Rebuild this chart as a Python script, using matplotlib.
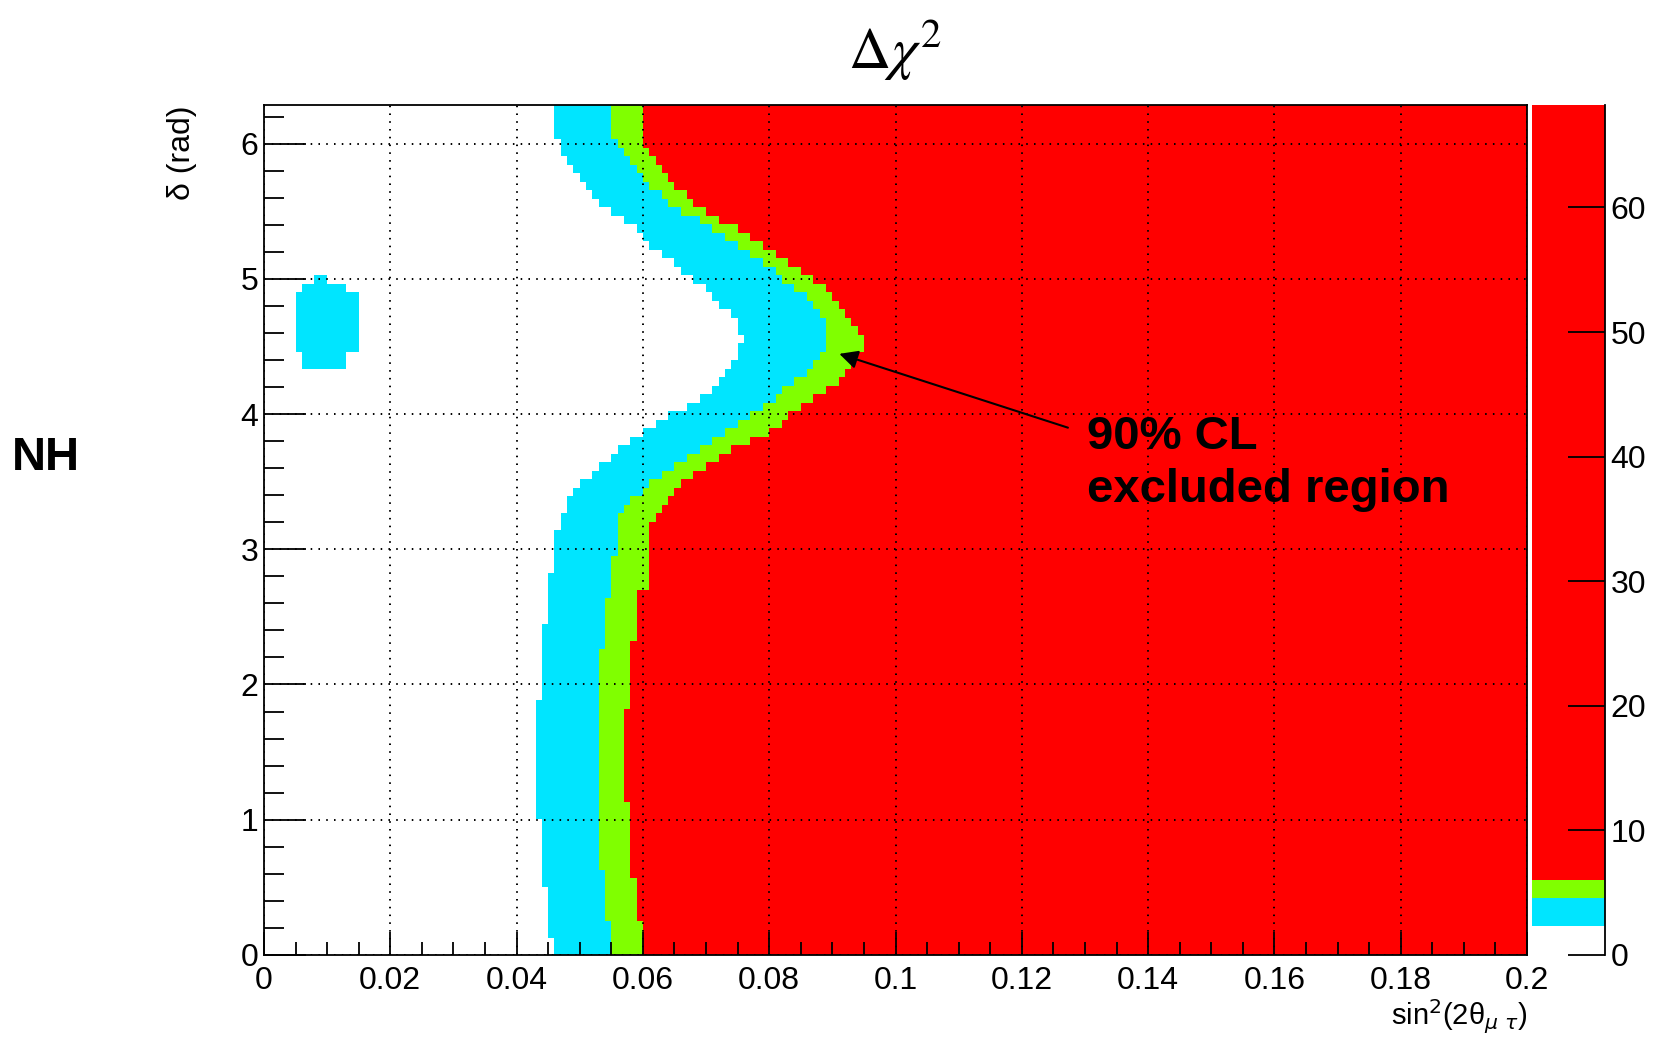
import numpy as np
import matplotlib
matplotlib.use("Agg")
import matplotlib.pyplot as plt
from matplotlib.colors import ListedColormap, BoundaryNorm
from matplotlib.cm import ScalarMappable
from matplotlib.ticker import MultipleLocator

plt.rcParams['font.family'] = ['Liberation Sans', 'DejaVu Sans']

# delta chi2 contour levels (colour bands) and their colours
levels = [0, 2.3, 4.61, 5.99, 68.2]
band_colors = ['#ffffff', '#00e5ff', '#80ff00', '#ff0000']

# histogram binning: 200 bins in sin^2(2theta), 100 bins in delta
n_x, n_y = 200, 100

# per delta-row (bottom to top) x where each band starts
cyan_start = [
    0.046, 0.046, 0.045, 0.045, 0.045, 0.045, 0.045, 0.045, 0.044, 0.044,
    0.044, 0.044, 0.044, 0.044, 0.044, 0.044, 0.043, 0.043, 0.043, 0.043,
    0.043, 0.043, 0.043, 0.043, 0.043, 0.043, 0.043, 0.043, 0.043, 0.043,
    0.044, 0.044, 0.044, 0.044, 0.044, 0.044, 0.044, 0.044, 0.044, 0.045,
    0.045, 0.045, 0.045, 0.045, 0.045, 0.046, 0.046, 0.046, 0.046, 0.046,
    0.047, 0.047, 0.048, 0.048, 0.049, 0.050, 0.052, 0.053, 0.055, 0.056,
    0.058, 0.060, 0.062, 0.064, 0.067, 0.069, 0.071, 0.072, 0.073, 0.074,
    0.075, 0.075, 0.076, 0.075, 0.075, 0.074, 0.072, 0.071, 0.070, 0.068,
    0.066, 0.065, 0.063, 0.061, 0.060, 0.059, 0.057, 0.055, 0.053, 0.052,
    0.051, 0.050, 0.049, 0.048, 0.047, 0.047, 0.046, 0.046, 0.046, 0.046,
]
green_start = [
    0.055, 0.055, 0.055, 0.055, 0.054, 0.054, 0.054, 0.054, 0.054, 0.054,
    0.053, 0.053, 0.053, 0.053, 0.053, 0.053, 0.053, 0.053, 0.053, 0.053,
    0.053, 0.053, 0.053, 0.053, 0.053, 0.053, 0.053, 0.053, 0.053, 0.053,
    0.053, 0.053, 0.053, 0.053, 0.053, 0.053, 0.054, 0.054, 0.054, 0.054,
    0.054, 0.054, 0.055, 0.055, 0.055, 0.055, 0.055, 0.056, 0.056, 0.056,
    0.056, 0.056, 0.057, 0.058, 0.060, 0.061, 0.063, 0.065, 0.067, 0.069,
    0.071, 0.073, 0.075, 0.077, 0.079, 0.081, 0.082, 0.084, 0.086, 0.087,
    0.088, 0.089, 0.089, 0.089, 0.089, 0.088, 0.087, 0.086, 0.084, 0.082,
    0.081, 0.079, 0.077, 0.075, 0.073, 0.071, 0.069, 0.066, 0.064, 0.063,
    0.061, 0.060, 0.059, 0.058, 0.057, 0.056, 0.055, 0.055, 0.055, 0.055,
]
red_start = [
    0.060, 0.060, 0.060, 0.060, 0.059, 0.059, 0.059, 0.059, 0.059, 0.058,
    0.058, 0.058, 0.058, 0.058, 0.058, 0.058, 0.058, 0.058, 0.057, 0.057,
    0.057, 0.057, 0.057, 0.057, 0.057, 0.057, 0.057, 0.057, 0.057, 0.058,
    0.058, 0.058, 0.058, 0.058, 0.058, 0.058, 0.058, 0.059, 0.059, 0.059,
    0.059, 0.059, 0.059, 0.061, 0.061, 0.061, 0.061, 0.061, 0.061, 0.061,
    0.061, 0.062, 0.063, 0.064, 0.065, 0.066, 0.068, 0.070, 0.072, 0.074,
    0.077, 0.080, 0.082, 0.083, 0.085, 0.087, 0.089, 0.091, 0.092, 0.093,
    0.094, 0.095, 0.095, 0.094, 0.093, 0.092, 0.091, 0.090, 0.089, 0.087,
    0.085, 0.083, 0.081, 0.079, 0.077, 0.075, 0.072, 0.070, 0.068, 0.067,
    0.065, 0.064, 0.063, 0.062, 0.061, 0.060, 0.060, 0.060, 0.060, 0.060,
]

# small cyan island near sin^2 = 0.01
island_rows = [69, 70, 71, 72, 73, 74, 75, 76, 77, 78, 79]
island_lo = [0.006, 0.006, 0.005, 0.005, 0.005, 0.005, 0.005, 0.005, 0.005, 0.006, 0.008]
island_hi = [0.013, 0.013, 0.015, 0.015, 0.015, 0.015, 0.015, 0.015, 0.015, 0.013, 0.010]

x_ticks = [0, 0.02, 0.04, 0.06, 0.08, 0.1, 0.12, 0.14, 0.16, 0.18, 0.2]
x_ticklabels = ['0', '0.02', '0.04', '0.06', '0.08', '0.1', '0.12', '0.14', '0.16', '0.18', '0.2']
y_ticks = [0, 1, 2, 3, 4, 5, 6]
cb_ticks = [0, 10, 20, 30, 40, 50, 60]

# build band map
xe = np.linspace(0, 0.2, n_x + 1)
ye = np.linspace(0, 2 * np.pi, n_y + 1)
xc = 0.5 * (xe[:-1] + xe[1:])
band = ((xc >= np.array(cyan_start)[:, None]).astype(int)
        + (xc >= np.array(green_start)[:, None])
        + (xc >= np.array(red_start)[:, None]))
for r, lo, hi in zip(island_rows, island_lo, island_hi):
    band[r, (xc >= lo) & (xc < hi)] = 1

cmap = ListedColormap(band_colors)

fig = plt.figure(figsize=(16.55, 10.38), dpi=100)
ax = fig.add_axes([0.1595, 0.0800, 0.9227 - 0.1595, 0.8986 - 0.0800])
cax = fig.add_axes([0.9257, 0.0800, 0.9698 - 0.9257, 0.8986 - 0.0800])

ax.pcolormesh(xe, ye, band, cmap=cmap, vmin=-0.5, vmax=3.5, shading='flat', antialiased=False)
ax.set_xlim(0, 0.2)
ax.set_ylim(0, 2 * np.pi)

ax.set_xticks(x_ticks)
ax.set_xticklabels(x_ticklabels)
ax.set_yticks(y_ticks)
ax.xaxis.set_minor_locator(MultipleLocator(0.005))
ax.yaxis.set_minor_locator(MultipleLocator(0.2))
ax.tick_params(axis='x', which='major', direction='in', length=16.5, width=1.3, labelsize=23, pad=8)
ax.tick_params(axis='x', which='minor', direction='in', length=9.4, width=1.3)
ax.tick_params(axis='y', which='major', direction='in', length=30, width=1.3, labelsize=23, pad=4)
ax.tick_params(axis='y', which='minor', direction='in', length=14.4, width=1.3)
for s in ax.spines.values():
    s.set_linewidth(1.3)

ax.set_axisbelow(False)
ax.grid(True, which='major', color='black', linewidth=1.4, linestyle=(0, (0.8, 3.2)))

# annotation
ax.annotate('', xy=(0.0911, 4.445), xytext=(0.1273, 3.899),
            arrowprops=dict(arrowstyle='-|>', color='black', lw=1.5,
                            mutation_scale=28, shrinkA=0, shrinkB=0))
ax.text(0.1303, 3.743, '90% CL', fontsize=34, fontweight='bold', va='baseline', ha='left')
ax.text(0.1303, 3.353, 'excluded region', fontsize=34, fontweight='bold', va='baseline', ha='left')

# colour bar
norm = BoundaryNorm(levels, len(band_colors))
sm = ScalarMappable(norm=norm, cmap=cmap)
cb = fig.colorbar(sm, cax=cax, spacing='proportional', ticks=cb_ticks)
cb.outline.set_visible(False)
cax.spines['right'].set_visible(True)
cax.spines['right'].set_linewidth(1.3)
cax.set_yticklabels([str(t) for t in cb_ticks])
cax.tick_params(axis='y', which='major', direction='in', length=27, width=1.3, labelsize=23, pad=4)
cax.minorticks_off()

# titles and labels
fig.text(0.5408, 0.934, r'$\Delta\chi^{2}$', fontsize=42, ha='center', va='baseline',
         math_fontfamily='stix')
fig.text(0.9227, 0.0125, r'sin$^{2}$(2θ$_{\mu\ \tau}$)', fontsize=21, ha='right',
         va='baseline', math_fontfamily='dejavusans')
fig.text(0.110, 0.8986, 'δ (rad)', fontsize=23, rotation=90, ha='center', va='top')
fig.text(0.0073, 0.5475, 'NH', fontsize=34, fontweight='bold', ha='left', va='baseline')

fig.savefig('out.png', dpi=100)
